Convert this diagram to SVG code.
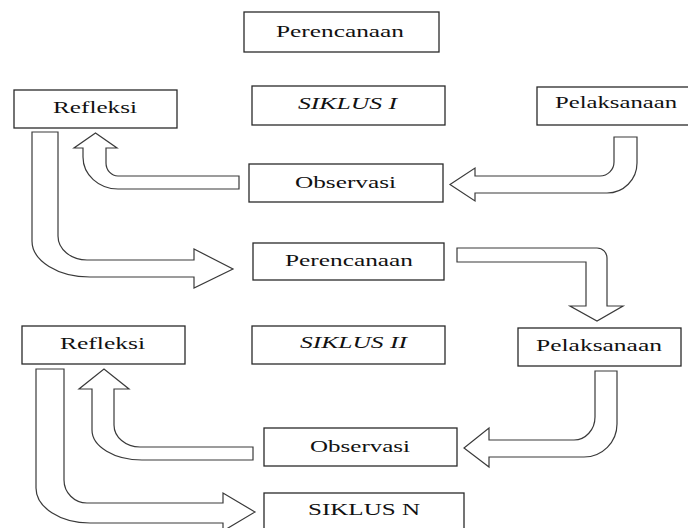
<svg xmlns="http://www.w3.org/2000/svg" width="688" height="528" viewBox="0 0 688 528">
<style>
.box{fill:#fff;stroke:#2a2a2a;stroke-width:1.3}
.t{font-family:'Liberation Serif','Times New Roman','DejaVu Serif',serif;font-size:17px;fill:#111}
.i{font-style:italic}
.arr{fill:#fff;stroke:#3a3a3a;stroke-width:1.2;stroke-linejoin:miter}
</style>
<rect width="688" height="528" fill="#fff"/>
<g id="connectors">
<path class="arr" d="M614,137 H637 V163 A30,30 0 0 1 607,193 H475 V201 L450,184.5 L475,168 V176 H600 A14,14 0 0 0 614,162 Z"/>
<path class="arr" d="M239,176 V189 H118 A35,32 0 0 1 83,157 V148 H74 L95.5,133 L117,148 H106 V163 A12,13 0 0 0 118,176 Z"/>
<path class="arr" d="M32,132 H58 V236 A29,24 0 0 0 87,260 H194 V249 L233,269 L194,288 V277 H90 A58,36 0 0 1 32,241 Z"/>
<path class="arr" d="M457,248 H597 A10,10 0 0 1 607,258 V306 H623 L597,321 L570,306 H586 V262 H457 Z"/>
<path class="arr" d="M595,371 H617 V424 A33,33 0 0 1 584,457 H489 V467 L464,448 L489,428 V440 H574 A21,23 0 0 0 595,417 Z"/>
<path class="arr" d="M253,447 V460 H142 A50,30 0 0 1 92,430 V389 H79 L104,369 L129,389 H114 V425 A26,22 0 0 0 140,447 Z"/>
<path class="arr" d="M36,369 H64 V480 A23,23 0 0 0 87,503 H223 V493 L255,512 L223,531 V523 H90 A54,35 0 0 1 36,488 Z"/>
</g>
<g id="perencanaan1"><rect class="box" x="244" y="12" width="195" height="40"/><text class="t" x="276" y="37" textLength="128" lengthAdjust="spacingAndGlyphs">Perencanaan</text></g>
<g id="siklus1"><rect class="box" x="252" y="86" width="193" height="39"/><text class="t i" x="298" y="109" textLength="99" lengthAdjust="spacingAndGlyphs">SIKLUS I</text></g>
<g id="refleksi1"><rect class="box" x="14" y="90" width="163" height="38"/><text class="t" x="53" y="113" textLength="84" lengthAdjust="spacingAndGlyphs">Refleksi</text></g>
<g id="pelaksanaan1"><rect class="box" x="537" y="87" width="153" height="38"/><text class="t" x="555" y="108" textLength="122" lengthAdjust="spacingAndGlyphs">Pelaksanaan</text></g>
<g id="observasi1"><rect class="box" x="249" y="164" width="194" height="38"/><text class="t" x="295" y="188" textLength="101" lengthAdjust="spacingAndGlyphs">Observasi</text></g>
<g id="perencanaan2"><rect class="box" x="253" y="243" width="191" height="37"/><text class="t" x="285" y="266" textLength="128" lengthAdjust="spacingAndGlyphs">Perencanaan</text></g>
<g id="refleksi2"><rect class="box" x="22" y="326" width="163" height="38"/><text class="t" x="60" y="349" textLength="85" lengthAdjust="spacingAndGlyphs">Refleksi</text></g>
<g id="siklus2"><rect class="box" x="252" y="326" width="193" height="38"/><text class="t i" x="300" y="348" textLength="107" lengthAdjust="spacingAndGlyphs">SIKLUS II</text></g>
<g id="pelaksanaan2"><rect class="box" x="518" y="328" width="163" height="38"/><text class="t" x="536" y="351" textLength="126" lengthAdjust="spacingAndGlyphs">Pelaksanaan</text></g>
<g id="observasi2"><rect class="box" x="264" y="428" width="193" height="38"/><text class="t" x="310" y="452" textLength="100" lengthAdjust="spacingAndGlyphs">Observasi</text></g>
<g id="siklusN"><rect class="box" x="264" y="493" width="200" height="40"/><text class="t" x="308" y="515" textLength="112" lengthAdjust="spacingAndGlyphs">SIKLUS N</text></g>
</svg>
